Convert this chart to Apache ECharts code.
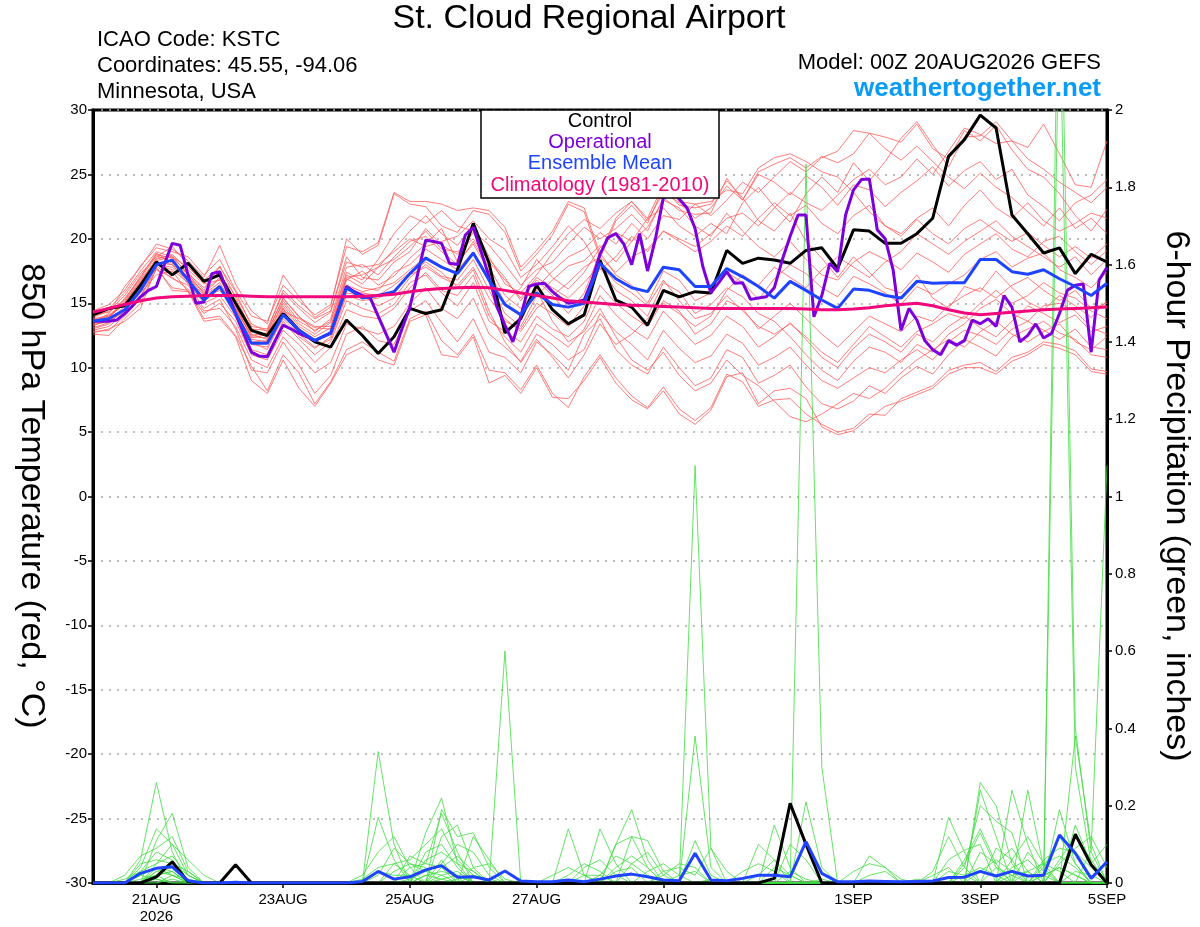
<!DOCTYPE html>
<html>
<head>
<meta charset="utf-8">
<title>St. Cloud Regional Airport - GEFS plume</title>
<script src="https://cdn.jsdelivr.net/npm/echarts@6.0.0/dist/echarts.min.js"></script>
<style>
  html, body { margin: 0; padding: 0; background: #fff; }
  #chart { width: 1200px; height: 927px; }
</style>
</head>
<body>
<div id="chart"></div>
<script>
// forecast hour of each x tick and its label
const tickHours = [24, 72, 120, 168, 216, 288, 336, 384];
const tickLabels = ['21AUG\n2026', '23AUG', '25AUG', '27AUG', '29AUG', '1SEP', '3SEP', '5SEP'];

// 850 hPa temperature, 6-hourly from 00Z 20AUG
const control = [
  14.1, 14.6, 14.8, 16.4, 18.2, 17.2, 18.1, 16.7, 17.2, 15.0, 12.9, 12.5, 14.2,
  12.9, 12.0, 11.6, 13.7, 12.5, 11.1, 12.4, 14.6, 14.2, 14.5, 17.6, 21.2, 18.1,
  12.7, 13.8, 16.4, 14.5, 13.4, 14.1, 18.35, 15.25, 14.7, 13.3, 16.0, 15.5, 15.9,
  15.8, 19.1, 18.1, 18.5, 18.35, 18.1, 19.1, 19.3, 17.7, 20.7, 20.6, 19.65, 19.65,
  20.4, 21.6, 26.4, 27.7, 29.6, 28.6, 21.85, 20.4, 18.9, 19.3, 17.3, 18.8, 18.2
];
const ensMean = [
  13.6, 13.8, 14.5, 16.0, 18.0, 18.35, 16.8, 15.25, 16.3, 14.2, 11.9, 11.9, 14.1,
  12.9, 12.1, 12.7, 16.2, 15.4, 15.6, 15.9, 17.3, 18.5, 17.8, 17.3, 18.9, 16.8,
  14.9, 14.1, 15.8, 14.9, 14.7, 15.0, 18.1, 16.9, 16.2, 15.9, 17.8, 17.6, 16.3,
  16.3, 17.7, 17.05, 16.3, 15.4, 16.7, 16.0, 15.25, 14.6, 16.1, 16.0, 15.6, 15.4,
  16.7, 16.55, 16.6, 16.6, 18.4, 18.4, 17.45, 17.25, 17.6, 16.9, 16.3, 15.6, 16.55
];
const climatology = [
  14.3, 14.6, 14.9, 15.2, 15.4, 15.5, 15.55, 15.6, 15.6, 15.6, 15.55, 15.5, 15.5,
  15.5, 15.5, 15.5, 15.5, 15.55, 15.6, 15.7, 15.9, 16.05, 16.15, 16.2, 16.25, 16.2,
  16.0, 15.8, 15.6, 15.4, 15.2, 15.1, 15.0, 14.9, 14.85, 14.8, 14.75, 14.7, 14.65,
  14.6, 14.6, 14.6, 14.6, 14.6, 14.6, 14.55, 14.5, 14.5, 14.55, 14.65, 14.8, 14.9,
  15.0, 14.8, 14.5, 14.25, 14.1, 14.2, 14.3, 14.4, 14.5, 14.55, 14.6, 14.65, 14.7
];
// operational run is 3-hourly
const operational = [
  13.6, 13.6, 13.6, 13.7, 14.2, 14.8, 15.5, 16.0, 16.3, 18.0, 19.65, 19.5, 17.2, 15.0, 15.1, 17.3,
  17.45, 15.8, 14.2, 12.7, 11.2, 10.9, 10.85, 12.1, 13.3, 13.0, 12.66, 12.4, 12.1, 12.4, 12.66, 14.5,
  16.3, 15.9, 15.6, 15.4, 14.0, 12.6, 11.2, 13.0, 14.7, 17.3, 19.9, 19.8, 19.65, 18.1, 18.0, 20.3,
  20.9, 19.0, 17.05, 14.7, 13.3, 12.0, 14.0, 16.3, 16.5, 16.55, 15.9, 15.4, 15.0, 15.1, 15.25, 16.8,
  18.8, 20.1, 20.4, 19.6, 18.0, 20.4, 17.5, 20.0, 23.2, 25.3, 23.1, 22.4, 20.8, 17.8, 15.8, 16.6,
  17.45, 16.55, 16.6, 15.3, 15.4, 15.5, 16.2, 18.35, 20.2, 21.85, 21.85, 13.95, 15.6, 18.1, 17.45, 21.85,
  23.8, 24.6, 24.65, 20.7, 20.0, 17.6, 12.9, 14.6, 13.7, 12.1, 11.4, 11.0, 12.1, 11.75, 12.1, 13.7,
  13.4, 13.8, 13.2, 15.6, 14.7, 12.0, 12.5, 13.4, 12.3, 12.66, 14.2, 16.0, 16.4, 16.5, 11.2, 16.8,
  17.8
];

// ensemble members, 850 hPa temperature
const member01 = [13.2, 13.9, 15.2, 17.0, 18.9, 18.1, 17.3, 16.2, 17.5, 14.8, 12.3, 12.6, 15.0, 13.4, 12.6, 13.5, 17.2, 16.5, 17.8, 19.2, 20.6, 21.8, 20.4, 19.5, 21.0, 18.6, 16.5, 15.8, 17.2, 18.9, 20.4, 21.5, 20.8, 22.0, 22.9, 21.4, 23.6, 22.8, 21.6, 22.4, 24.1, 23.0, 25.2, 25.8, 26.3, 25.5, 26.4, 25.9, 26.6, 28.2, 27.9, 27.5, 28.9, 27.0, 26.2, 28.4, 27.6, 28.8, 26.9, 25.4, 24.8, 23.5, 21.8, 20.6, 22.3];
const member02 = [12.6, 12.5, 13.8, 15.0, 17.7, 16.2, 16.0, 13.8, 14.0, 12.5, 10.1, 8.2, 11.0, 9.6, 7.2, 8.9, 11.4, 12.0, 11.2, 10.5, 13.8, 14.4, 12.1, 11.0, 12.6, 9.8, 9.6, 8.3, 10.2, 8.0, 6.9, 9.3, 11.0, 9.2, 7.8, 6.9, 8.5, 6.8, 5.9, 6.9, 9.5, 8.9, 7.0, 7.5, 7.6, 6.4, 5.6, 5.0, 5.3, 6.4, 6.3, 7.6, 8.1, 8.6, 9.8, 10.2, 10.4, 9.7, 10.8, 11.2, 12.0, 11.8, 11.3, 9.9, 9.7];
const member03 = [13.5, 14.2, 16.3, 17.8, 19.6, 19.2, 18.3, 17.0, 19.5, 16.5, 14.4, 13.4, 17.2, 15.5, 13.9, 14.7, 20.0, 18.8, 19.5, 23.5, 22.7, 22.5, 21.0, 20.5, 22.2, 21.9, 20.5, 17.5, 18.8, 20.3, 22.7, 22.1, 18.5, 21.4, 22.6, 21.2, 24.0, 22.6, 22.4, 22.7, 24.5, 23.2, 21.4, 20.6, 22.0, 19.8, 18.5, 17.0, 18.6, 17.4, 16.2, 15.8, 17.2, 15.4, 14.6, 16.3, 15.9, 17.5, 16.2, 15.1, 14.5, 15.6, 14.8, 13.9, 15.2];
const member04 = [14.0, 14.5, 14.8, 16.5, 18.4, 18.8, 17.6, 16.5, 16.8, 15.2, 12.8, 12.4, 14.4, 13.8, 13.1, 13.0, 16.8, 17.5, 16.4, 17.1, 18.5, 19.6, 20.8, 18.2, 19.6, 17.5, 15.0, 16.2, 18.4, 17.0, 16.1, 17.4, 19.3, 20.5, 19.8, 21.6, 22.4, 21.0, 20.2, 21.2, 20.4, 22.8, 24.0, 22.5, 21.3, 23.5, 24.8, 23.6, 25.9, 24.5, 26.0, 27.8, 29.1, 27.3, 25.6, 27.9, 28.0, 29.1, 27.6, 27.1, 28.9, 26.6, 24.2, 24.0, 27.6];
const member05 = [12.8, 12.9, 14.0, 15.4, 17.9, 16.9, 16.4, 14.6, 15.3, 13.0, 9.8, 9.6, 12.0, 10.2, 8.0, 9.4, 12.6, 13.2, 12.1, 11.8, 14.4, 15.2, 13.5, 12.0, 13.8, 11.2, 10.8, 9.6, 12.0, 11.0, 9.8, 12.6, 13.8, 11.4, 10.2, 9.5, 11.6, 10.0, 8.6, 9.2, 11.4, 10.8, 8.8, 9.4, 10.2, 8.5, 7.2, 6.8, 7.4, 8.6, 8.0, 9.2, 10.1, 9.5, 11.0, 12.2, 11.6, 10.9, 12.4, 13.0, 13.6, 12.7, 12.2, 11.0, 10.8];
const member06 = [13.9, 14.4, 15.6, 17.3, 18.6, 19.4, 18.0, 16.8, 17.8, 15.9, 13.2, 13.0, 15.8, 14.6, 13.5, 14.3, 18.6, 17.0, 16.8, 18.2, 19.0, 20.8, 19.5, 18.8, 20.5, 18.4, 17.0, 15.2, 16.8, 15.6, 14.2, 15.8, 18.9, 17.2, 16.4, 15.0, 17.5, 16.8, 15.2, 15.8, 17.4, 16.6, 15.3, 16.9, 18.0, 17.3, 16.2, 15.5, 17.1, 16.5, 15.8, 14.9, 16.3, 15.7, 16.5, 17.2, 18.4, 19.0, 17.8, 18.5, 18.9, 17.6, 17.0, 16.2, 17.4];
const member07 = [13.0, 13.4, 14.6, 15.8, 17.2, 17.5, 15.9, 14.2, 15.0, 13.6, 11.0, 10.6, 12.9, 11.8, 10.4, 11.6, 14.5, 14.0, 13.8, 14.6, 16.2, 17.4, 16.0, 15.6, 17.2, 14.0, 12.4, 11.2, 13.4, 12.5, 11.6, 13.0, 15.6, 14.1, 13.0, 12.2, 14.4, 13.1, 11.8, 12.5, 14.0, 13.2, 11.6, 12.4, 13.5, 12.2, 10.8, 10.0, 11.5, 12.6, 12.0, 11.2, 12.6, 12.0, 13.2, 14.0, 13.1, 12.4, 13.6, 14.8, 14.2, 13.5, 14.1, 12.8, 13.2];
const member08 = [14.4, 14.9, 16.0, 17.9, 19.3, 19.0, 18.6, 17.2, 18.4, 16.0, 14.0, 13.6, 16.4, 15.2, 14.1, 14.9, 19.4, 19.0, 19.7, 23.6, 22.9, 22.9, 22.7, 22.2, 22.4, 22.2, 20.9, 17.8, 19.1, 20.6, 22.9, 22.4, 18.8, 21.6, 22.9, 21.6, 24.2, 22.9, 22.7, 22.9, 23.8, 23.5, 25.5, 26.3, 26.6, 26.0, 25.2, 24.8, 23.6, 22.1, 21.0, 20.2, 21.5, 20.4, 19.6, 20.8, 21.5, 20.6, 19.8, 20.5, 19.5, 18.6, 19.4, 18.5, 19.6];
const member09 = [13.3, 13.6, 14.4, 16.2, 18.2, 18.0, 16.5, 15.4, 16.0, 14.4, 12.2, 12.0, 14.6, 12.4, 11.5, 12.4, 15.8, 15.6, 14.8, 15.4, 17.0, 18.0, 17.1, 16.8, 18.4, 16.0, 13.6, 13.0, 15.0, 14.2, 13.2, 14.8, 17.8, 16.0, 15.2, 14.0, 16.6, 15.9, 14.2, 14.9, 16.2, 15.5, 14.2, 13.6, 12.4, 11.0, 9.8, 9.0, 10.5, 11.6, 11.2, 10.4, 11.8, 11.2, 12.6, 13.4, 14.6, 15.3, 14.2, 13.6, 14.8, 15.0, 14.4, 13.1, 12.6];
const member10 = [13.7, 14.1, 15.0, 16.7, 18.5, 18.7, 17.2, 15.8, 16.9, 14.9, 12.6, 12.2, 14.8, 13.2, 12.4, 13.1, 16.9, 16.2, 16.0, 17.4, 18.0, 19.2, 18.4, 17.6, 19.0, 17.0, 14.8, 14.0, 16.2, 17.5, 18.6, 19.2, 20.5, 19.6, 21.2, 20.0, 21.8, 21.5, 22.7, 21.8, 23.0, 24.4, 23.6, 24.8, 26.0, 25.2, 26.3, 26.8, 28.4, 28.2, 27.0, 26.1, 27.2, 26.0, 24.8, 23.9, 25.1, 24.0, 23.2, 22.1, 21.0, 22.4, 20.8, 21.6, 20.4];
const member11 = [12.9, 13.2, 14.2, 15.6, 17.6, 17.0, 16.1, 14.4, 14.6, 13.2, 10.6, 10.0, 12.4, 11.0, 9.6, 10.4, 13.4, 13.0, 12.6, 13.2, 15.0, 16.2, 14.6, 13.8, 15.4, 12.6, 11.6, 10.5, 12.6, 11.8, 10.6, 11.4, 14.2, 12.8, 11.8, 10.6, 12.9, 11.5, 10.4, 10.9, 12.6, 11.9, 10.2, 10.8, 11.6, 10.2, 9.0, 8.4, 9.2, 10.0, 9.6, 10.6, 11.4, 10.6, 12.0, 12.9, 12.5, 11.8, 13.0, 13.6, 12.9, 12.2, 13.0, 11.6, 11.4];
const member12 = [13.6, 14.0, 14.9, 16.4, 18.1, 18.4, 17.0, 15.6, 16.4, 14.5, 12.0, 11.4, 14.0, 12.8, 12.0, 12.8, 16.4, 15.9, 16.2, 16.6, 17.6, 18.6, 17.8, 17.4, 18.9, 16.6, 14.2, 13.2, 15.6, 16.8, 17.9, 18.3, 19.5, 18.2, 19.8, 20.9, 23.0, 22.4, 21.0, 20.2, 22.0, 20.6, 19.4, 18.6, 19.8, 18.4, 17.2, 16.8, 18.2, 19.0, 18.4, 17.6, 18.9, 18.2, 17.4, 18.8, 19.6, 20.4, 19.2, 18.6, 19.8, 20.2, 19.0, 18.0, 19.1];
const member13 = [14.2, 14.6, 15.8, 17.5, 19.0, 18.6, 17.8, 16.6, 17.2, 15.6, 13.4, 12.8, 15.4, 14.0, 12.8, 13.8, 17.8, 18.0, 17.2, 18.6, 19.8, 20.2, 19.0, 18.0, 19.8, 17.8, 15.6, 14.6, 16.0, 13.6, 12.0, 12.8, 14.6, 12.4, 10.6, 9.8, 11.2, 9.4, 8.2, 8.8, 10.6, 9.4, 8.6, 7.4, 6.2, 5.8, 6.4, 7.2, 8.0, 7.6, 8.4, 9.6, 10.6, 11.4, 12.2, 11.6, 12.8, 13.6, 12.6, 12.0, 12.8, 13.4, 12.0, 11.4, 12.4];
const member14 = [13.4, 13.8, 15.4, 16.9, 18.7, 18.2, 17.0, 15.9, 17.0, 14.6, 12.4, 12.3, 15.2, 13.6, 12.9, 13.6, 17.4, 16.8, 18.4, 20.4, 21.8, 21.2, 22.2, 21.0, 20.6, 19.5, 18.0, 16.4, 17.6, 18.2, 19.6, 20.9, 20.0, 20.8, 21.9, 20.6, 23.2, 22.2, 21.9, 22.0, 24.7, 23.0, 25.0, 24.4, 23.4, 24.9, 24.0, 22.6, 24.2, 23.8, 22.5, 23.6, 24.5, 25.6, 24.1, 25.3, 26.0, 24.6, 25.4, 23.4, 22.5, 21.4, 22.8, 23.4, 24.6];
const member15 = [12.7, 13.0, 13.6, 14.6, 17.8, 16.0, 15.9, 13.6, 13.8, 12.4, 9.0, 8.0, 10.6, 8.4, 7.0, 8.8, 11.0, 11.6, 10.6, 10.2, 13.6, 14.1, 11.0, 10.8, 12.4, 8.8, 9.4, 8.0, 10.0, 7.7, 7.6, 9.0, 10.8, 8.8, 7.5, 6.8, 8.2, 6.4, 5.6, 6.7, 9.3, 9.6, 7.2, 8.2, 8.4, 7.6, 5.4, 4.8, 5.1, 6.1, 7.0, 7.4, 7.9, 8.4, 9.5, 10.0, 10.0, 9.5, 10.5, 11.0, 11.8, 11.5, 11.0, 9.7, 9.5];
const member16 = [14.1, 14.3, 15.3, 17.1, 18.8, 18.5, 17.4, 16.0, 17.9, 15.4, 13.0, 12.9, 16.0, 14.8, 13.8, 14.4, 18.2, 17.8, 18.0, 19.0, 20.0, 19.4, 19.8, 20.2, 21.4, 20.0, 19.2, 17.0, 18.0, 19.4, 21.0, 19.8, 17.6, 18.6, 20.2, 19.0, 20.6, 19.8, 19.0, 19.8, 21.0, 20.2, 21.6, 22.8, 21.8, 22.6, 21.2, 20.4, 21.8, 22.6, 21.0, 20.4, 21.6, 22.4, 21.0, 22.6, 23.8, 22.4, 21.6, 22.8, 21.4, 20.6, 21.2, 22.0, 21.6];
const member17 = [13.1, 13.5, 14.8, 16.0, 18.0, 17.6, 16.6, 15.0, 15.6, 13.9, 11.4, 11.0, 13.6, 12.2, 11.0, 12.0, 15.2, 14.6, 14.2, 14.9, 16.6, 17.2, 15.8, 14.8, 16.6, 13.6, 12.8, 12.0, 14.0, 13.0, 12.4, 13.6, 16.4, 15.0, 14.0, 13.2, 15.2, 14.4, 12.6, 13.4, 15.2, 14.6, 13.0, 14.0, 15.0, 13.8, 12.6, 11.6, 12.8, 14.0, 13.4, 12.8, 14.0, 13.6, 14.8, 15.6, 16.2, 15.4, 16.4, 17.0, 16.0, 15.2, 16.0, 14.6, 15.0];
const member18 = [13.8, 14.0, 15.1, 16.8, 18.3, 18.6, 17.3, 15.7, 16.6, 14.6, 12.5, 12.7, 15.4, 13.9, 13.2, 13.2, 17.0, 17.2, 17.8, 18.4, 19.4, 20.6, 19.2, 19.0, 20.0, 18.2, 16.8, 15.4, 17.0, 16.2, 15.4, 16.6, 18.0, 16.6, 15.8, 14.8, 16.8, 15.2, 13.8, 14.2, 15.6, 14.4, 13.2, 12.6, 13.4, 12.4, 11.2, 10.4, 11.8, 13.2, 12.4, 11.6, 12.8, 13.4, 14.2, 13.8, 15.0, 16.0, 15.0, 15.6, 16.6, 15.8, 15.4, 14.4, 13.8];
const member19 = [13.3, 13.7, 14.3, 15.9, 18.0, 17.8, 16.8, 15.2, 16.2, 14.0, 11.8, 11.6, 13.8, 12.6, 11.6, 12.2, 15.6, 15.2, 15.4, 16.0, 17.2, 17.8, 17.0, 16.4, 17.8, 15.4, 13.8, 12.8, 14.6, 15.6, 16.6, 17.8, 18.6, 17.4, 18.6, 19.2, 20.6, 20.0, 19.4, 20.4, 21.6, 22.0, 21.0, 22.4, 23.6, 22.8, 22.2, 23.4, 24.6, 25.4, 24.2, 24.8, 26.2, 25.0, 26.8, 28.6, 28.1, 27.4, 27.6, 26.2, 25.4, 24.4, 23.6, 22.8, 24.0];
const member20 = [13.5, 13.9, 15.0, 16.6, 18.2, 18.0, 17.0, 15.4, 16.2, 14.2, 12.0, 12.1, 14.6, 13.0, 12.2, 12.6, 16.0, 15.8, 15.6, 16.4, 17.4, 18.2, 17.4, 16.2, 17.6, 14.4, 12.0, 10.4, 12.2, 10.8, 9.2, 11.0, 13.4, 11.8, 12.6, 13.8, 15.0, 14.2, 13.2, 14.0, 16.0, 17.2, 16.4, 17.8, 17.0, 16.2, 17.6, 18.6, 17.8, 17.0, 18.2, 19.0, 20.4, 19.6, 18.8, 19.8, 20.6, 21.4, 20.2, 19.4, 18.6, 17.8, 18.6, 17.2, 18.4];

// 6-hour precipitation (inches)
const controlPrecip = [0, 0, 0, 0, 0.016, 0.055, 0.003, 0, 0, 0.047, 0, 0, 0, 0, 0, 0, 0, 0, 0, 0, 0, 0, 0, 0, 0, 0, 0, 0, 0, 0, 0, 0, 0, 0, 0, 0, 0, 0, 0, 0, 0, 0, 0, 0.012, 0.206, 0.1, 0, 0, 0, 0, 0, 0, 0, 0, 0, 0, 0, 0, 0, 0, 0, 0, 0.126, 0.047, 0];
const meanPrecip = [0, 0, 0, 0.025, 0.038, 0.042, 0.006, 0, 0, 0.002, 0, 0, 0, 0, 0, 0, 0, 0.004, 0.03, 0.01, 0.016, 0.034, 0.045, 0.015, 0.016, 0.008, 0.031, 0.005, 0.003, 0.003, 0.008, 0.003, 0.01, 0.018, 0.023, 0.016, 0.008, 0.006, 0.077, 0.008, 0.006, 0.012, 0.02, 0.02, 0.016, 0.107, 0.025, 0.003, 0.003, 0.005, 0.004, 0.003, 0.004, 0.005, 0.014, 0.015, 0.03, 0.018, 0.03, 0.018, 0.02, 0.124, 0.077, 0.012, 0.055];
const precip01 = [0, 0, 0, 0.06, 0.26, 0.08, 0, 0, 0, 0, 0, 0, 0, 0, 0, 0, 0, 0, 0.34, 0.1, 0, 0.13, 0.22, 0.05, 0, 0, 0, 0, 0, 0, 0, 0, 0, 0.1, 0.19, 0.06, 0, 0, 0, 0, 0, 0, 0, 0, 0, 1.86, 0.3, 0, 0, 0, 0, 0, 0, 0, 0, 0, 0.26, 0.2, 0.05, 0, 0, 0.19, 0.05, 0, 0];
const precip02 = [0, 0, 0, 0, 0.11, 0.18, 0.04, 0, 0, 0, 0, 0, 0, 0, 0, 0, 0, 0, 0.17, 0.06, 0, 0, 0.19, 0.12, 0.13, 0.04, 0, 0, 0, 0, 0, 0, 0, 0, 0, 0, 0, 0, 1.08, 0.09, 0, 0, 0, 0.15, 0.04, 0, 0, 0, 0, 0, 0, 0, 0, 0, 0, 0, 0, 0, 0.24, 0.1, 0, 2.6, 0.4, 0.08, 0];
const precip03 = [0, 0, 0, 0.04, 0.14, 0.1, 0.02, 0, 0, 0, 0, 0, 0, 0, 0, 0, 0, 0, 0, 0, 0.07, 0.05, 0.18, 0.08, 0, 0, 0.6, 0, 0, 0, 0.14, 0.02, 0, 0, 0, 0, 0, 0, 0, 0, 0, 0, 0, 0, 0, 0, 0, 0, 0, 0, 0, 0, 0, 0, 0, 0, 0.24, 0.12, 0, 0.24, 0.04, 0, 0.38, 0.1, 0];
const precip04 = [0, 0, 0.02, 0.07, 0.09, 0.12, 0.03, 0, 0, 0, 0, 0, 0, 0, 0, 0, 0, 0, 0, 0.05, 0.06, 0.1, 0.14, 0.06, 0.02, 0, 0, 0, 0, 0, 0, 0, 0.14, 0.05, 0, 0, 0, 0, 0.38, 0.04, 0, 0, 0, 0, 0, 0.21, 0.04, 0, 0, 0, 0, 0, 0, 0, 0.17, 0.08, 0, 0, 0, 0, 0, 2.3, 0.3, 0.05, 0.1];
const precip05 = [0, 0, 0, 0, 0.05, 0.1, 0.06, 0.02, 0, 0, 0, 0, 0, 0, 0, 0, 0, 0.02, 0.08, 0.12, 0.04, 0, 0.06, 0, 0.12, 0.06, 0, 0, 0, 0, 0, 0, 0, 0, 0.12, 0.11, 0.03, 0, 0, 0, 0, 0, 0.1, 0.06, 0, 0, 0, 0, 0, 0, 0, 0, 0, 0, 0, 0.04, 0.2, 0.16, 0.13, 0, 0, 0, 0, 0.085, 1.08];
const precip06 = [0, 0, 0, 0.03, 0.08, 0.06, 0, 0, 0, 0, 0, 0, 0, 0, 0, 0, 0, 0, 0, 0, 0, 0.08, 0.1, 0.04, 0, 0, 0, 0, 0, 0, 0, 0, 0, 0.1, 0.12, 0.04, 0, 0, 0, 0, 0, 0, 0, 0, 0, 0, 0, 0, 0, 0.07, 0.04, 0.01, 0, 0, 0, 0, 0, 0.09, 0.06, 0, 0.04, 0.12, 0.05, 0, 0];
const precip07 = [0, 0, 0, 0, 0.04, 0.03, 0, 0, 0, 0, 0, 0, 0, 0, 0, 0, 0, 0, 0, 0, 0, 0, 0.12, 0.15, 0.04, 0, 0, 0, 0, 0, 0, 0.04, 0.06, 0.02, 0, 0, 0, 0, 0.11, 0.02, 0, 0, 0, 0, 0.1, 0.06, 0, 0, 0, 0, 0, 0, 0, 0, 0.06, 0.085, 0.1, 0, 0, 0.08, 0.03, 0, 0.15, 0.05, 0];
const precip08 = [0, 0, 0, 0.05, 0.06, 0.05, 0.03, 0, 0, 0, 0, 0, 0, 0, 0, 0, 0, 0, 0.02, 0.09, 0.05, 0.04, 0, 0, 0, 0, 0, 0, 0, 0, 0.02, 0.05, 0.03, 0, 0, 0, 0.02, 0.05, 0.04, 0, 0, 0, 0, 0, 0, 0, 0, 0, 0.03, 0.05, 0.04, 0, 0, 0.03, 0.12, 0.04, 0, 0, 0.06, 0.12, 0.05, 0, 0, 0, 0];
const precip09 = [0, 0, 0.01, 0.03, 0.05, 0.07, 0.02, 0, 0, 0, 0, 0, 0, 0, 0, 0, 0, 0, 0, 0, 0, 0.06, 0.08, 0.05, 0.03, 0, 0, 0, 0, 0, 0, 0, 0, 0, 0.05, 0.08, 0.02, 0, 0, 0, 0, 0.03, 0.05, 0.03, 0, 0, 0, 0, 0, 0, 0, 0, 0, 0, 0, 0.05, 0.13, 0.04, 0, 0, 0.06, 0.09, 0.08, 0.04, 0];
const precip10 = [0, 0, 0, 0, 0.03, 0.04, 0, 0, 0, 0, 0, 0, 0, 0, 0, 0, 0, 0, 0, 0.03, 0.05, 0.03, 0.05, 0.1, 0.08, 0.02, 0, 0, 0, 0, 0, 0, 0, 0.04, 0.07, 0.04, 0, 0, 0, 0, 0, 0, 0, 0.04, 0.02, 0, 0, 0, 0, 0, 0, 0, 0, 0.02, 0.04, 0, 0.08, 0.05, 0.09, 0.03, 0, 0.06, 0.12, 0.06, 0];
const precip11 = [0, 0, 0, 0.02, 0.04, 0.02, 0, 0, 0, 0, 0, 0, 0, 0, 0, 0, 0, 0, 0.03, 0.02, 0.02, 0, 0.04, 0.07, 0.03, 0, 0, 0, 0, 0, 0, 0, 0.02, 0.07, 0.05, 0.02, 0, 0, 0, 0, 0, 0, 0, 0, 0, 0, 0.01, 0, 0, 0.02, 0.03, 0, 0, 0, 0, 0, 0, 0.04, 0.02, 0, 0.05, 0.07, 0.04, 0, 0];
const precip12 = [0, 0, 0, 0, 0.02, 0.05, 0.02, 0, 0, 0, 0, 0, 0, 0, 0, 0, 0, 0, 0, 0, 0.04, 0.05, 0.04, 0, 0, 0, 0, 0, 0, 0, 0, 0, 0, 0, 0, 0, 0.03, 0.04, 0.02, 0.09, 0.03, 0, 0, 0, 0, 0, 0, 0, 0, 0, 0, 0, 0.01, 0, 0, 0.06, 0.14, 0.05, 0, 0, 0.02, 0.04, 0.02, 0, 0];
const precip13 = [0, 0, 0, 0.01, 0.02, 0.03, 0, 0, 0, 0, 0, 0, 0, 0, 0, 0, 0, 0.01, 0.04, 0.05, 0.02, 0, 0, 0, 0.04, 0.05, 0.01, 0, 0, 0, 0, 0, 0, 0, 0, 0, 0, 0, 0, 0, 0, 0, 0.02, 0.06, 0.02, 0, 0, 0, 0, 0, 0, 0, 0, 0, 0, 0, 0, 0, 0.04, 0.06, 0.02, 0, 0, 0, 0];
const precip14 = [0, 0, 0, 0, 0.03, 0.02, 0, 0, 0, 0, 0, 0, 0, 0, 0, 0, 0, 0, 0, 0, 0, 0.02, 0.03, 0.02, 0, 0, 0, 0, 0, 0.02, 0.04, 0.02, 0, 0, 0, 0.03, 0.05, 0.02, 0, 0, 0, 0, 0, 0, 0, 0, 0, 0, 0, 0, 0, 0, 0, 0, 0.03, 0.02, 0, 0, 0, 0, 0, 0.05, 0.09, 0.12, 0.04];
const precip15 = [0, 0, 0, 0, 0.02, 0.03, 0, 0, 0, 0, 0, 0, 0, 0, 0, 0, 0, 0, 0, 0, 0, 0, 0.02, 0.03, 0, 0, 0, 0, 0, 0, 0, 0, 0, 0.03, 0.04, 0, 0, 0, 0, 0, 0, 0, 0, 0, 0, 0, 0, 0, 0, 0, 0, 0, 0, 0, 0, 0, 0.03, 0.06, 0.03, 0, 0, 0, 0, 0, 0];
const precip16 = [0, 0, 0, 0.02, 0.01, 0, 0, 0, 0, 0, 0, 0, 0, 0, 0, 0, 0, 0, 0, 0, 0.01, 0.03, 0.02, 0, 0, 0, 0, 0, 0, 0, 0, 0, 0, 0, 0, 0, 0, 0, 0, 0, 0, 0, 0, 0, 0.03, 0.01, 0, 0, 0, 0, 0, 0, 0, 0, 0, 0, 0, 0, 0, 0.03, 0.05, 0.03, 0, 0, 0];
const precip17 = [0, 0, 0, 0, 0, 0.02, 0.01, 0, 0, 0, 0, 0, 0, 0, 0, 0, 0, 0, 0, 0, 0, 0, 0, 0, 0.02, 0.01, 0, 0, 0, 0, 0, 0, 0, 0, 0, 0, 0, 0.02, 0.03, 0, 0, 0, 0, 0, 0, 0, 0, 0, 0, 0, 0, 0, 0, 0, 0, 0, 0, 0, 0, 0, 0, 0, 0.03, 0.02, 0];
const precip18 = [0, 0, 0, 0, 0.01, 0, 0, 0, 0, 0, 0, 0, 0, 0, 0, 0, 0, 0, 0, 0, 0, 0, 0.01, 0.02, 0, 0, 0, 0, 0, 0, 0, 0.02, 0.02, 0, 0, 0, 0, 0, 0, 0, 0, 0, 0, 0, 0, 0, 0, 0, 0, 0, 0, 0, 0, 0, 0, 0.02, 0.04, 0.02, 0, 0, 0, 0, 0, 0, 0];
const precip19 = [0, 0, 0, 0, 0.02, 0, 0, 0, 0, 0, 0, 0, 0, 0, 0, 0, 0, 0, 0, 0, 0, 0.02, 0.01, 0, 0, 0, 0, 0, 0, 0, 0, 0, 0, 0, 0, 0, 0, 0, 0, 0, 0, 0, 0, 0, 0, 0, 0, 0, 0, 0, 0, 0, 0, 0, 0, 0, 0, 0, 0, 0, 0.02, 0.04, 0.02, 0, 0];
const precip20 = [0, 0, 0, 0, 0, 0.01, 0, 0, 0, 0, 0, 0, 0, 0, 0, 0, 0, 0, 0, 0, 0, 0, 0, 0.01, 0.02, 0, 0, 0, 0, 0, 0, 0, 0, 0, 0, 0, 0, 0, 0, 0.01, 0, 0, 0, 0, 0, 0, 0, 0, 0, 0, 0, 0, 0, 0, 0, 0, 0, 0, 0.02, 0.03, 0, 0, 0, 0, 0];

const tempMembers = [member01, member02, member03, member04, member05, member06, member07, member08, member09, member10,
  member11, member12, member13, member14, member15, member16, member17, member18, member19, member20];
const precipMembers = [precip01, precip02, precip03, precip04, precip05, precip06, precip07, precip08, precip09, precip10,
  precip11, precip12, precip13, precip14, precip15, precip16, precip17, precip18, precip19, precip20];

const FONT = '"Liberation Sans", Arial, Helvetica, sans-serif';

// pair each value with its forecast hour
function byHour(values, step) {
  return values.map((v, i) => [i * step, v]);
}

function thinLine(values, color, axis) {
  return {
    type: 'line', yAxisIndex: axis, data: byHour(values, 6),
    symbol: 'none', silent: true, z: 2,
    lineStyle: { color: color, width: 0.8 }
  };
}

function thickLine(values, step, color, axis, z) {
  return {
    type: 'line', yAxisIndex: axis, data: byHour(values, step),
    symbol: 'none', silent: true, z: z,
    lineStyle: { color: color, width: 3 }
  };
}

const series = [];
tempMembers.forEach(m => series.push(thinLine(m, '#ff5a5a', 0)));
precipMembers.forEach(m => series.push(thinLine(m, '#3fdc3f', 1)));
series.push(thickLine(controlPrecip, 6, '#000000', 1, 4));
series.push(thickLine(meanPrecip, 6, '#1f44ff', 1, 5));
series.push(thickLine(control, 6, '#000000', 0, 6));
series.push(thickLine(operational, 3, '#7d00dc', 0, 7));
series.push(thickLine(ensMean, 6, '#1f44ff', 0, 8));
series.push(thickLine(climatology, 6, '#f0087c', 0, 9));

function label(text, x, y, size, color, align, extra) {
  return Object.assign({
    type: 'text', x: x, y: y, z: 100, silent: true,
    style: {
      text: text, fill: color, align: align, verticalAlign: 'middle',
      font: size + 'px ' + FONT
    }
  }, extra || {});
}

const legendItems = [
  ['Control', '#000000'],
  ['Operational', '#7d00dc'],
  ['Ensemble Mean', '#1f44ff'],
  ['Climatology (1981-2010)', '#f0087c']
];

const graphics = [
  label('St. Cloud Regional Airport', 589, 19, 34, '#000', 'center'),
  label('ICAO Code: KSTC', 97, 40, 22, '#000', 'left'),
  label('Coordinates: 45.55, -94.06', 97, 66, 22, '#000', 'left'),
  label('Minnesota, USA', 97, 92, 22, '#000', 'left'),
  label('Model: 00Z 20AUG2026 GEFS', 1101, 63, 22, '#000', 'right'),
  {
    type: 'text', x: 1101, y: 89, z: 100, silent: true,
    style: { text: 'weathertogether.net', fill: '#0a9cf5', align: 'right', verticalAlign: 'middle',
      font: 'bold 26px ' + FONT }
  },
  label('850 hPa Temperature (red, \u00B0C)', 31, 496, 34, '#000', 'center', { rotation: -Math.PI / 2 }),
  label('6-hour Precipitation (green, inches)', 1176, 496, 34, '#000', 'center', { rotation: -Math.PI / 2 }),
  {
    type: 'rect', z: 99, silent: true,
    shape: { x: 481, y: 110, width: 238, height: 88 },
    style: { fill: '#fff', stroke: '#000', lineWidth: 1.5 }
  }
];
legendItems.forEach((item, k) => {
  graphics.push(label(item[0], 600, 121 + k * 21.4, 20, item[1], 'center'));
});

const chart = echarts.init(document.getElementById('chart'), null, { renderer: 'canvas' });
chart.setOption({
  animation: false,
  backgroundColor: '#fff',
  grid: {
    left: 93, right: 93, top: 110, bottom: 44,
    show: true, borderColor: '#000', borderWidth: 3, backgroundColor: 'transparent'
  },
  xAxis: {
    type: 'value', min: 0, max: 384,
    axisLine: { show: true, onZero: false, lineStyle: { color: '#000', width: 3 } },
    axisTick: { show: true, customValues: tickHours, length: 5, lineStyle: { color: '#000', width: 1.5 } },
    axisLabel: {
      customValues: tickHours, color: '#000', fontSize: 15, fontFamily: FONT, margin: 8, lineHeight: 17,
      formatter: v => tickLabels[tickHours.indexOf(v)]
    },
    splitLine: { show: false }
  },
  yAxis: [
    {
      type: 'value', position: 'left', min: -30, max: 30, interval: 5,
      axisLine: { show: true, lineStyle: { color: '#000', width: 3 } },
      axisTick: { show: true, length: 5, lineStyle: { color: '#000', width: 1.5 } },
      axisLabel: { color: '#000', fontSize: 15, fontFamily: FONT, margin: 6 },
      splitLine: { show: true, lineStyle: { color: '#a8a8a8', width: 1.5, type: [2, 6] } }
    },
    {
      type: 'value', position: 'right', min: 0, max: 2, interval: 0.2,
      axisLine: { show: true, lineStyle: { color: '#000', width: 3 } },
      axisTick: { show: true, length: 5, lineStyle: { color: '#000', width: 1.5 } },
      axisLabel: { color: '#000', fontSize: 15, fontFamily: FONT, margin: 8 },
      splitLine: { show: false }
    }
  ],
  graphic: graphics,
  series: series
});
</script>
</body>
</html>
